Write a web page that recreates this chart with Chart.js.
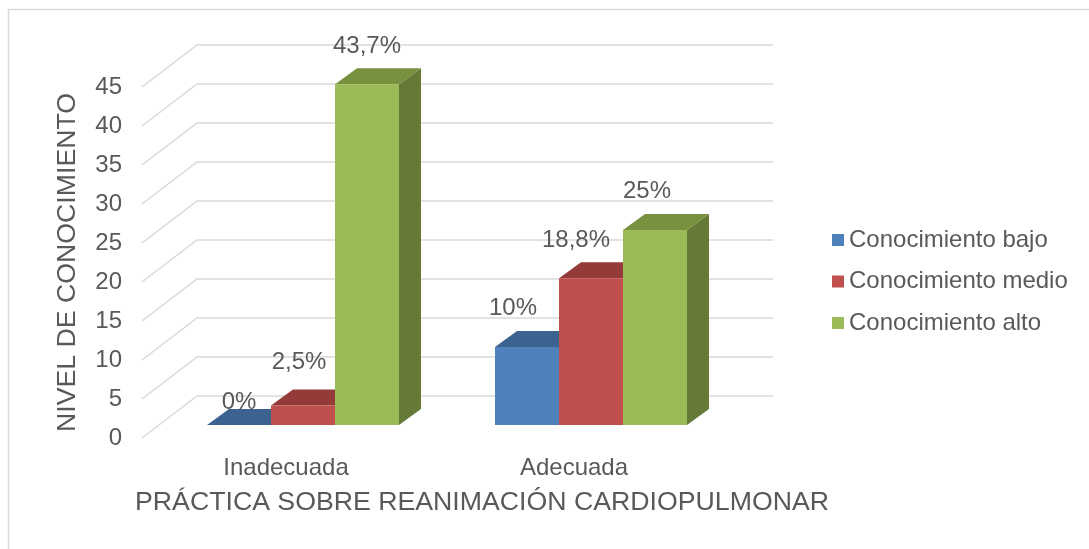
<!DOCTYPE html>
<html>
<head>
<meta charset="utf-8">
<script src="https://cdn.jsdelivr.net/npm/chart.js@4.4.0/dist/chart.umd.min.js"></script>
<style>
  html, body { margin: 0; padding: 0; background: #fff; }
  #wrap { position: relative; width: 1089px; height: 549px; }
</style>
</head>
<body>
<div id="wrap"><canvas id="myChart"></canvas></div>
<script>
const categories = ['Inadecuada', 'Adecuada'];
const seriesNames = ['Conocimiento bajo', 'Conocimiento medio', 'Conocimiento alto'];
const bajo = [0, 10];
const medio = [2.5, 18.8];
const alto = [43.7, 25];
const yTicks = [0, 5, 10, 15, 20, 25, 30, 35, 40, 45];

const FONT = '"Liberation Sans", Arial, sans-serif';
const TEXT = '#595959';
const GRID = '#D9D9D9';
const SMALL = 24;
const BIG = 26.7;

// 3D look: front / top / side colours per series
const faces = [
  { front: '#4F81BD', top: '#3C6290', side: '#375A85' },
  { front: '#C0504D', top: '#943B39', side: '#8A3634' },
  { front: '#9BBB59', top: '#77913F', side: '#657A37' },
];
const WALL = { dx: 55, dy: -42 };      // floor depth
const SHIFT = { dx: 17, dy: -13 };     // bar front plane
const DEPTH = { dx: 22, dy: -16 };     // bar thickness

// where each value label sits, relative to the top middle of the bar front
const labelNudge = [
  [[0, -23], [-14, -39]],
  [[-4, -43], [-15, -38]],
  [[0, -38], [-8, -39]],
];

const fmt = v => String(v).replace('.', ',') + '%';

const poly = (ctx, pts, color) => {
  ctx.beginPath();
  ctx.moveTo(pts[0][0], pts[0][1]);
  pts.slice(1).forEach(p => ctx.lineTo(p[0], p[1]));
  ctx.closePath();
  ctx.fillStyle = color;
  ctx.fill();
};

const threeD = {
  id: 'threeD',
  beforeDraw(chart) {
    const { ctx, width, height } = chart;
    ctx.save();
    ctx.fillStyle = '#fff';
    ctx.fillRect(0, 0, width, height);
    ctx.strokeStyle = GRID;
    ctx.lineWidth = 1.5;
    ctx.beginPath();
    ctx.moveTo(8.5, height);
    ctx.lineTo(8.5, 9.5);
    ctx.lineTo(width, 9.5);
    ctx.stroke();
    ctx.restore();
  },
  beforeDatasetsDraw(chart) {
    const { ctx, chartArea, scales } = chart;
    const y = scales.y;
    ctx.save();
    ctx.strokeStyle = GRID;
    ctx.lineWidth = 1.5;
    y.ticks.forEach(t => {
      const py = y.getPixelForValue(t.value);
      ctx.beginPath();
      ctx.moveTo(chartArea.left, py);
      ctx.lineTo(chartArea.left + WALL.dx, py + WALL.dy);
      ctx.lineTo(chartArea.right + WALL.dx, py + WALL.dy);
      ctx.stroke();
    });
    ctx.restore();

    // bars are drawn on a plane pushed back into the floor
    ctx.save();
    ctx.translate(SHIFT.dx, SHIFT.dy);
    chart.data.datasets.forEach((ds, i) => {
      const f = faces[i];
      chart.getDatasetMeta(i).data.forEach(el => {
        const x0 = el.x - el.width / 2;
        const x1 = el.x + el.width / 2;
        poly(ctx, [[x1, el.y], [x1 + DEPTH.dx, el.y + DEPTH.dy],
          [x1 + DEPTH.dx, el.base + DEPTH.dy], [x1, el.base]], f.side);
        poly(ctx, [[x0, el.y], [x1, el.y],
          [x1 + DEPTH.dx, el.y + DEPTH.dy], [x0 + DEPTH.dx, el.y + DEPTH.dy]], f.top);
      });
    });
  },
  afterDatasetsDraw(chart) {
    const { ctx } = chart;
    ctx.restore();

    ctx.save();
    ctx.font = SMALL + 'px ' + FONT;
    ctx.fillStyle = TEXT;
    ctx.textAlign = 'center';
    ctx.textBaseline = 'middle';
    chart.data.datasets.forEach((ds, i) => {
      chart.getDatasetMeta(i).data.forEach((el, j) => {
        const [nx, ny] = labelNudge[i][j];
        ctx.fillText(fmt(ds.data[j]), el.x + SHIFT.dx + nx, el.y + SHIFT.dy + ny);
      });
    });
    ctx.restore();
  },
  afterDraw(chart) {
    const { ctx } = chart;
    ctx.save();
    ctx.fillStyle = TEXT;
    ctx.textBaseline = 'middle';
    // x axis title
    ctx.font = BIG + 'px ' + FONT;
    ctx.textAlign = 'center';
    ctx.fillText('PRÁCTICA SOBRE REANIMACIÓN CARDIOPULMONAR', 482, 503);
    // legend
    ctx.font = SMALL + 'px ' + FONT;
    ctx.textAlign = 'left';
    chart.data.datasets.forEach((ds, i) => {
      const ry = 240 + i * 41.5;
      ctx.fillStyle = ds.backgroundColor;
      ctx.fillRect(832, ry - 6, 12, 12);
      ctx.fillStyle = TEXT;
      ctx.fillText(ds.label, 849, ry);
    });
    ctx.restore();
  }
};

new Chart(document.getElementById('myChart'), {
  type: 'bar',
  data: {
    labels: categories,
    datasets: [bajo, medio, alto].map((data, i) => ({
      label: seriesNames[i],
      data,
      backgroundColor: faces[i].front,
      borderWidth: 0,
      categoryPercentage: 2 / 3,
      barPercentage: 1,
      clip: false,
    })),
  },
  options: {
    responsive: true,
    maintainAspectRatio: false,
    animation: false,
    layout: { padding: { left: 40, top: 87, right: 371, bottom: 51 } },
    plugins: {
      legend: { display: false },
      tooltip: { enabled: false },
    },
    scales: {
      x: {
        grid: { display: false, drawTicks: false },
        border: { display: false },
        ticks: { color: TEXT, padding: 16, font: { family: FONT, size: SMALL } },
        afterFit: s => { s.height = 60; },
      },
      y: {
        min: 0,
        max: 45,
        grid: { display: false, drawTicks: false },
        border: { display: false },
        afterBuildTicks: s => { s.ticks = yTicks.map(v => ({ value: v })); },
        ticks: { color: TEXT, padding: 20, font: { family: FONT, size: SMALL } },
        title: {
          display: true,
          text: 'NIVEL DE CONOCIMIENTO',
          color: TEXT,
          padding: { top: 12, bottom: 0 },
          font: { family: FONT, size: BIG },
        },
        afterFit: s => { s.width = 102; },
      },
    },
  },
  plugins: [threeD],
});
</script>
</body>
</html>
